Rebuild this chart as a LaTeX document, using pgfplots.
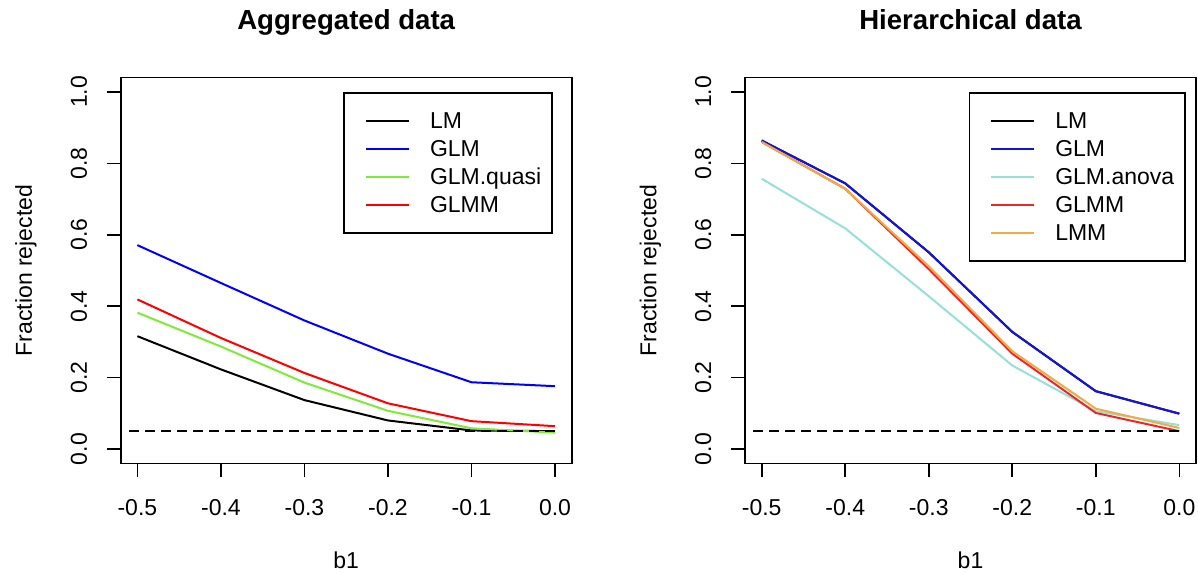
\documentclass[border=0pt]{standalone}
\usepackage{pgfplots}
\usepackage{pgfplotstable}
\pgfplotsset{compat=1.18}
\usepackage{fontspec}
\setmainfont{Liberation Sans}

\definecolor{rgreen}{RGB}{125,235,55}
\definecolor{rblue}{RGB}{0,0,255}
\definecolor{rred}{RGB}{255,0,0}
\definecolor{hblue}{RGB}{20,20,225}
\definecolor{hanova}{RGB}{150,225,215}
\definecolor{hred}{RGB}{235,40,40}
\definecolor{horange}{RGB}{240,170,70}

\pgfplotstableread{
b1   LM    GLM   GLMquasi GLMM
-0.5 0.316 0.571 0.382 0.419
-0.4 0.223 0.465 0.287 0.311
-0.3 0.137 0.360 0.186 0.213
-0.2 0.080 0.267 0.107 0.128
-0.1 0.052 0.187 0.058 0.078
0.0  0.050 0.176 0.046 0.064
}\aggdata

\pgfplotstableread{
b1   LM    GLM   GLManova GLMM  LMM
-0.5 0.864 0.864 0.757 0.860 0.860
-0.4 0.744 0.744 0.618 0.729 0.729
-0.3 0.551 0.551 0.428 0.504 0.512
-0.2 0.328 0.328 0.234 0.267 0.274
-0.1 0.162 0.162 0.106 0.101 0.113
0.0  0.099 0.099 0.067 0.050 0.059
}\hierdata

\pgfplotstableread{
x y
-0.51 0.05
0.0 0.05
}\refline

\pgfplotsset{
  rplot/.style={
    scale only axis,
    anchor=south west,
    width=225.5pt, height=192.8pt,
    xmin=-0.52, xmax=0.02, ymin=-0.04, ymax=1.04,
    axis line style={black, line width=0.8pt},
    tick style={black, line width=0.8pt},
    tick align=outside,
    major tick length=7pt,
    xtick pos=bottom, ytick pos=left,
    xtick={-0.5,-0.4,-0.3,-0.2,-0.1,0},
    xticklabels={-0.5,-0.4,-0.3,-0.2,-0.1,0.0},
    ytick={0,0.2,0.4,0.6,0.8,1},
    yticklabels={0.0,0.2,0.4,0.6,0.8,1.0},
    tick label style={font=\fontsize{11.5}{14}\selectfont},
    xticklabel style={anchor=base, inner sep=0pt},
    xticklabel shift=19.2pt,
    yticklabel style={rotate=90, anchor=base, inner sep=0pt},
    yticklabel shift=9.9pt,
    label style={font=\fontsize{11.5}{14}\selectfont},
    xlabel={b1},
    xlabel style={at={(rel axis cs:0.5,0)}, anchor=base, yshift=-52.35pt, inner sep=0pt},
    ylabel={Fraction rejected},
    ylabel style={at={(rel axis cs:-0.1967,0.5)}, anchor=base, rotate=0, inner sep=0pt},
    title style={font=\fontsize{13.8}{16}\selectfont\bfseries, at={(rel axis cs:0.5,1)}, anchor=base, yshift=18pt, inner sep=0pt},
    legend cell align=left,
    legend image code/.code={\draw[#1] (0pt,0pt) -- (21.5pt,0pt); \path (-5pt,0pt);},
    legend style={draw=black, line width=0.8pt, fill=white,
      font=\fontsize{11.5}{14}\selectfont,
      inner xsep=5.5pt, inner ysep=7pt, column sep=10pt, row sep=0pt,
      nodes={inner sep=0pt, text height=11pt, text depth=3pt},
      anchor=north east},
    every axis plot/.append style={line width=1pt},
  }
}

\begin{document}
\begin{tikzpicture}
\path[use as bounding box] (0pt,0pt) rectangle (599pt,286.5pt);

\begin{axis}[rplot, at={(60.35pt,54.85pt)},
  title={Aggregated data},
  legend style={at={(0.9586,0.963)}}]
\addplot[black] table[x=b1,y=LM] {\aggdata};
\addlegendentry{LM}
\addplot[rblue] table[x=b1,y=GLM] {\aggdata};
\addlegendentry{GLM}
\addplot[rgreen] table[x=b1,y=GLMquasi] {\aggdata};
\addlegendentry{GLM.quasi}
\addplot[rred] table[x=b1,y=GLMM] {\aggdata};
\addlegendentry{GLMM}
\addplot[black, line width=0.8pt, dash pattern=on 5pt off 3pt, forget plot] table[x=x,y=y] {\refline};
\end{axis}

\begin{axis}[rplot, at={(372.5pt,54.85pt)},
  title={Hierarchical data},
  legend style={at={(0.9778,0.963)}}]
\addplot[black] table[x=b1,y=LM] {\hierdata};
\addlegendentry{LM}
\addplot[hblue] table[x=b1,y=GLM] {\hierdata};
\addlegendentry{GLM}
\addplot[hanova] table[x=b1,y=GLManova] {\hierdata};
\addlegendentry{GLM.anova}
\addplot[hred] table[x=b1,y=GLMM] {\hierdata};
\addlegendentry{GLMM}
\addplot[horange] table[x=b1,y=LMM] {\hierdata};
\addlegendentry{LMM}
\addplot[black, line width=0.8pt, dash pattern=on 5pt off 3pt, forget plot] table[x=x,y=y] {\refline};
\end{axis}
\end{tikzpicture}
\end{document}
